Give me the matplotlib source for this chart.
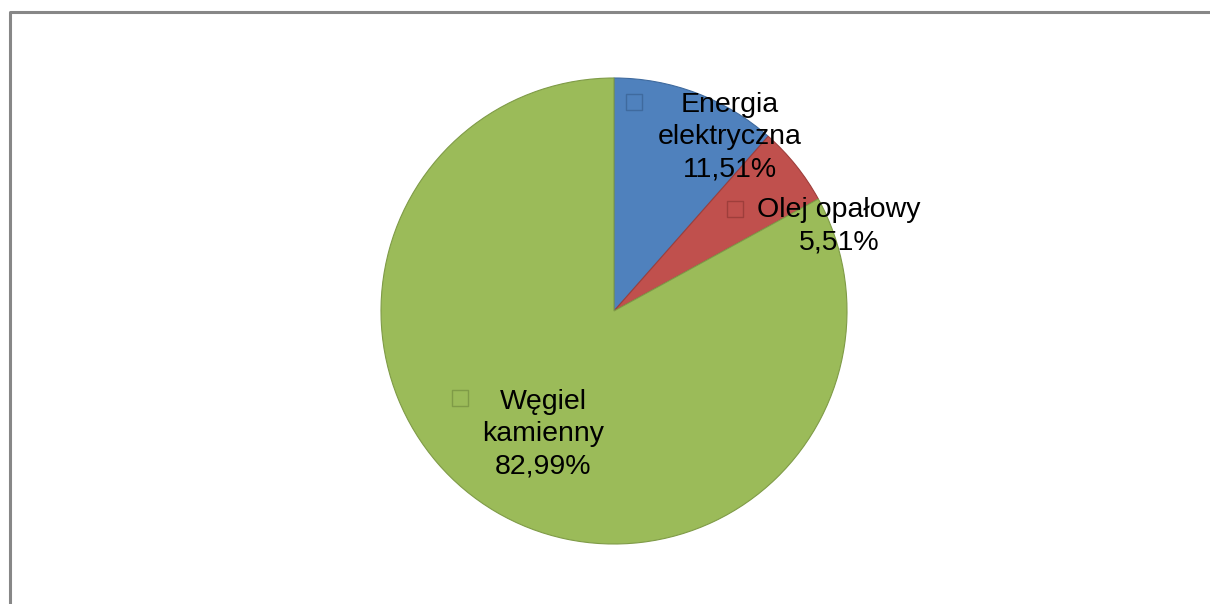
import matplotlib
matplotlib.use("Agg")
import matplotlib.pyplot as plt
from matplotlib.lines import Line2D

plt.rcParams['font.family'] = ['Liberation Sans', 'DejaVu Sans']

# data
labels = ["Energia\nelektryczna", "Olej opałowy", "Węgiel\nkamienny"]
shares = [11.51, 5.51, 82.99]
colors = ["#4F81BD", "#C0504D", "#9BBB59"]
edges = ["#3F6A9E", "#9E3E3B", "#7F9B47"]

# label layout (pixel coords, y from top)
text_pos = [(730, 137), (839, 226), (543, 434)]
box_pos = [(634, 102), (735, 209), (460, 398)]

W, H = 1210, 604
fig = plt.figure(figsize=(W / 100, H / 100), dpi=100)
ax = fig.add_axes([0, 0, 1, 1])

wedges, _ = ax.pie(shares, colors=colors, startangle=90, counterclock=False,
                   radius=233, center=(614, H - 311),
                   wedgeprops=dict(linewidth=0.8))
for w, e in zip(wedges, edges):
    w.set_edgecolor(e)

for lab, val, (tx, ty), (bx, by), e in zip(labels, shares, text_pos, box_pos, edges):
    txt = lab + "\n" + f"{val:.2f}".replace(".", ",") + "%"
    ax.text(tx, H - ty, txt, ha="center", va="center", multialignment="center",
            fontsize=20.5, color="black", linespacing=1.32)
    ax.scatter([bx], [H - by], marker="s", s=120, facecolor="none",
               edgecolor=e, linewidth=1.0, zorder=5)

ax.set_xlim(0, W)
ax.set_ylim(0, H)
ax.set_aspect("equal")
ax.axis("off")

# chart frame
fig.add_artist(Line2D([9.5 / W, 9.5 / W, 1], [0, 1 - 12 / H, 1 - 12 / H],
                      transform=fig.transFigure, color="#878787", linewidth=2.2))

fig.savefig("out.png", dpi=100, facecolor="white")
